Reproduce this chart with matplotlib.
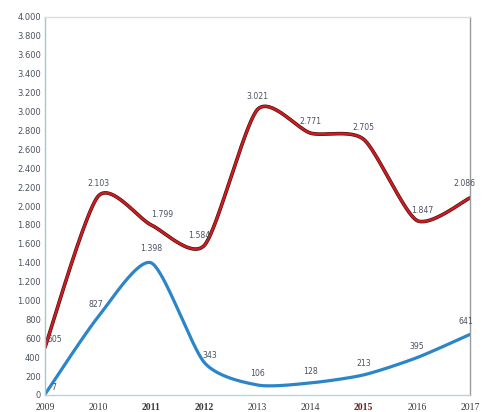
import numpy as np
import matplotlib
matplotlib.use("Agg")
import matplotlib.pyplot as plt
import matplotlib.patheffects as pe

years = [2009, 2010, 2011, 2012, 2013, 2014, 2015, 2016, 2017]
red_values = [505, 2103, 1799, 1584, 3021, 2771, 2705, 1847, 2086]
blue_values = [7, 827, 1398, 343, 106, 128, 213, 395, 641]
y_ticks = list(range(0, 4001, 200))
y_tick_labels = [f"{v:,}".replace(",", ".") for v in y_ticks]

red_label_offsets = [(7, 2), (0, 6), (8, 4), (-4, 4), (0, 6), (0, 5), (0, 5), (4, 4), (-4, 7)]
blue_label_offsets = [(6, 2), (-2, 6), (0, 7), (4, 2), (0, 5), (0, 5), (0, 5), (0, 5), (-3, 6)]


def smooth(xs, ys, n=40, t=0.12):
    xs = np.asarray(xs, float)
    ys = np.asarray(ys, float)
    px, py = [], []
    m = len(xs)
    for i in range(m - 1):
        x0, y0 = (xs[i - 1], ys[i - 1]) if i > 0 else (xs[i], ys[i])
        x1, y1 = xs[i], ys[i]
        x2, y2 = xs[i + 1], ys[i + 1]
        x3, y3 = (xs[i + 2], ys[i + 2]) if i + 2 < m else (xs[i + 1], ys[i + 1])
        c1x, c1y = x1 + (x2 - x0) * t, y1 + (y2 - y0) * t
        c2x, c2y = x2 - (x3 - x1) * t, y2 - (y3 - y1) * t
        s = np.linspace(0, 1, n, endpoint=(i == m - 2))
        bx = (1 - s) ** 3 * x1 + 3 * (1 - s) ** 2 * s * c1x + 3 * (1 - s) * s ** 2 * c2x + s ** 3 * x2
        by = (1 - s) ** 3 * y1 + 3 * (1 - s) ** 2 * s * c1y + 3 * (1 - s) * s ** 2 * c2y + s ** 3 * y2
        px.append(bx)
        py.append(by)
    return np.concatenate(px), np.concatenate(py)


fig = plt.figure(figsize=(4.85, 4.12), dpi=100)
ax = fig.add_axes([45 / 485, 1 - 395 / 412, 425 / 485, 378 / 412])

rx, ry = smooth(years, red_values)
bx, by = smooth(years, blue_values)
ax.plot(rx, ry, color="#c81e22", lw=1.7, solid_capstyle="round",
        path_effects=[pe.Stroke(linewidth=2.6, foreground="#4a0e0e"), pe.Normal()])
ax.plot(bx, by, color="#2b86c9", lw=2.3, solid_capstyle="round")

lab_color = "#4a5260"
for x, y, off in zip(years, red_values, red_label_offsets):
    ax.annotate(f"{y:,}".replace(",", "."), (x, y), xytext=off, textcoords="offset points",
                ha="center", va="bottom", fontsize=5.6, color=lab_color)
for x, y, off in zip(years, blue_values, blue_label_offsets):
    ax.annotate(f"{y:,}".replace(",", "."), (x, y), xytext=off, textcoords="offset points",
                ha="center", va="bottom", fontsize=5.6, color=lab_color)

ax.set_xlim(2009, 2017)
ax.set_ylim(0, 4000)
ax.set_yticks(y_ticks)
ax.set_yticklabels(y_tick_labels, fontsize=6, color="#4a5260")
ax.set_xticks(years)
xl = ax.set_xticklabels([str(y) for y in years], fontsize=7, color="#3a3a3a",
                        family="Liberation Serif")
for lbl, yr in zip(xl, years):
    if yr in (2011, 2012):
        lbl.set_fontweight("bold")
    if yr == 2015:
        lbl.set_fontweight("bold")
        lbl.set_color("#6a2020")
ax.tick_params(axis="both", length=0, pad=3)
ax.tick_params(axis="x", pad=6)

ax.spines["left"].set_color("#a9c4d6")
ax.spines["bottom"].set_color("#b8d2de")
ax.spines["right"].set_color("#9a9a9a")
ax.spines["top"].set_color("#dcdcdc")
for s in ax.spines.values():
    s.set_linewidth(1.0)

fig.savefig("out.png", dpi=100)
